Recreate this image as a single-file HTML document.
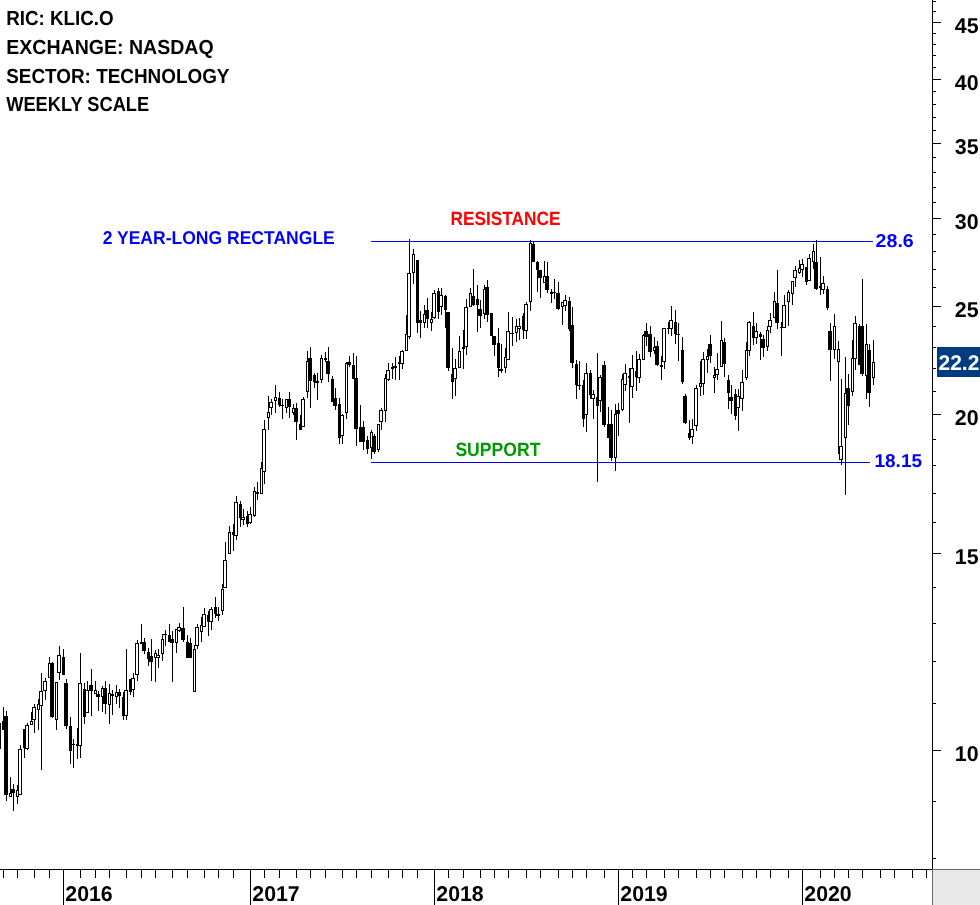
<!DOCTYPE html>
<html lang="en"><head><meta charset="utf-8"><title>KLIC.O weekly chart</title>
<style>
html,body{margin:0;padding:0;background:#fff}
body{width:980px;height:905px;overflow:hidden}
svg{display:block}
text{font-family:"Liberation Sans",Arial,sans-serif;font-weight:bold}
</style></head><body>
<svg width="980" height="905" viewBox="0 0 980 905" shape-rendering="crispEdges">
<rect width="980" height="905" fill="#fff"/>
<g fill="#000">
<rect x="0" y="723" width="1" height="26"/>
<rect x="3" y="707" width="1" height="23"/><rect x="2" y="721" width="3" height="9"/>
<rect x="6" y="711" width="1" height="90"/><rect x="4" y="716" width="4" height="79"/>
<rect x="10" y="777" width="1" height="20"/><rect x="9" y="793" width="3" height="4"/><rect x="10" y="794" width="1" height="2" fill="#fff"/>
<rect x="13" y="784" width="1" height="27"/><rect x="11" y="789" width="4" height="4"/>
<rect x="17" y="785" width="1" height="19"/><rect x="16" y="790" width="3" height="7"/><rect x="17" y="791" width="1" height="5" fill="#fff"/>
<rect x="20" y="745" width="1" height="50"/><rect x="18" y="749" width="4" height="46"/><rect x="19" y="750" width="2" height="44" fill="#fff"/>
<rect x="24" y="729" width="1" height="29"/><rect x="23" y="729" width="3" height="19"/>
<rect x="27" y="723" width="1" height="27"/><rect x="25" y="725" width="4" height="24"/><rect x="26" y="726" width="2" height="22" fill="#fff"/>
<rect x="31" y="712" width="1" height="13"/><rect x="30" y="721" width="3" height="4"/><rect x="31" y="722" width="1" height="2" fill="#fff"/>
<rect x="34" y="704" width="1" height="29"/><rect x="32" y="707" width="4" height="13"/><rect x="33" y="708" width="2" height="11" fill="#fff"/>
<rect x="38" y="699" width="1" height="31"/><rect x="37" y="704" width="3" height="6"/><rect x="38" y="705" width="1" height="4" fill="#fff"/>
<rect x="41" y="673" width="1" height="97"/><rect x="39" y="691" width="4" height="15"/><rect x="40" y="692" width="2" height="13" fill="#fff"/>
<rect x="45" y="678" width="1" height="22"/><rect x="43" y="681" width="4" height="10"/><rect x="44" y="682" width="2" height="8" fill="#fff"/>
<rect x="49" y="657" width="1" height="21"/><rect x="48" y="663" width="3" height="15"/><rect x="49" y="664" width="1" height="13" fill="#fff"/>
<rect x="52" y="662" width="1" height="56"/><rect x="50" y="663" width="4" height="54"/>
<rect x="56" y="682" width="1" height="48"/><rect x="55" y="682" width="3" height="38"/><rect x="56" y="683" width="1" height="36" fill="#fff"/>
<rect x="59" y="646" width="1" height="34"/><rect x="57" y="655" width="4" height="18"/><rect x="58" y="656" width="2" height="16" fill="#fff"/>
<rect x="63" y="649" width="1" height="26"/><rect x="62" y="657" width="3" height="18"/>
<rect x="66" y="679" width="1" height="50"/><rect x="64" y="683" width="4" height="43"/>
<rect x="70" y="717" width="1" height="47"/><rect x="69" y="726" width="3" height="25"/>
<rect x="73" y="739" width="1" height="29"/><rect x="71" y="744" width="4" height="1"/>
<rect x="77" y="728" width="1" height="31"/><rect x="76" y="744" width="3" height="2"/>
<rect x="80" y="653" width="1" height="105"/><rect x="78" y="683" width="4" height="63"/><rect x="79" y="684" width="2" height="61" fill="#fff"/>
<rect x="84" y="683" width="1" height="41"/><rect x="83" y="689" width="3" height="28"/>
<rect x="87" y="681" width="1" height="32"/><rect x="85" y="690" width="4" height="23"/><rect x="86" y="691" width="2" height="21" fill="#fff"/>
<rect x="91" y="669" width="1" height="47"/><rect x="89" y="685" width="4" height="6"/>
<rect x="95" y="681" width="1" height="13"/><rect x="94" y="690" width="3" height="4"/><rect x="95" y="691" width="1" height="2" fill="#fff"/>
<rect x="98" y="691" width="1" height="20"/><rect x="96" y="694" width="4" height="3"/>
<rect x="102" y="686" width="1" height="26"/><rect x="101" y="688" width="3" height="9"/><rect x="102" y="689" width="1" height="7" fill="#fff"/>
<rect x="105" y="681" width="1" height="33"/><rect x="103" y="688" width="4" height="16"/>
<rect x="109" y="684" width="1" height="40"/><rect x="108" y="693" width="3" height="12"/><rect x="109" y="694" width="1" height="10" fill="#fff"/>
<rect x="112" y="690" width="1" height="25"/><rect x="110" y="694" width="4" height="2"/>
<rect x="116" y="685" width="1" height="19"/><rect x="115" y="692" width="3" height="5"/><rect x="116" y="693" width="1" height="3" fill="#fff"/>
<rect x="119" y="689" width="1" height="19"/><rect x="117" y="692" width="4" height="4"/>
<rect x="123" y="692" width="1" height="28"/><rect x="122" y="697" width="3" height="19"/>
<rect x="126" y="649" width="1" height="71"/><rect x="124" y="690" width="4" height="26"/><rect x="125" y="691" width="2" height="24" fill="#fff"/>
<rect x="130" y="679" width="1" height="16"/><rect x="129" y="679" width="3" height="13"/>
<rect x="133" y="673" width="1" height="24"/><rect x="131" y="678" width="4" height="12"/><rect x="132" y="679" width="2" height="10" fill="#fff"/>
<rect x="137" y="640" width="1" height="41"/><rect x="135" y="643" width="4" height="32"/><rect x="136" y="644" width="2" height="30" fill="#fff"/>
<rect x="141" y="624" width="1" height="20"/><rect x="140" y="642" width="3" height="2"/>
<rect x="144" y="638" width="1" height="16"/><rect x="142" y="642" width="4" height="9"/>
<rect x="148" y="648" width="1" height="18"/><rect x="147" y="652" width="3" height="7"/>
<rect x="151" y="639" width="1" height="42"/><rect x="149" y="656" width="4" height="6"/>
<rect x="155" y="650" width="1" height="32"/><rect x="154" y="653" width="3" height="5"/><rect x="155" y="654" width="1" height="3" fill="#fff"/>
<rect x="158" y="649" width="1" height="19"/><rect x="156" y="655" width="4" height="3"/><rect x="157" y="656" width="2" height="1" fill="#fff"/>
<rect x="162" y="634" width="1" height="27"/><rect x="161" y="639" width="3" height="15"/><rect x="162" y="640" width="1" height="13" fill="#fff"/>
<rect x="165" y="630" width="1" height="16"/><rect x="163" y="634" width="4" height="1"/>
<rect x="169" y="624" width="1" height="18"/><rect x="168" y="635" width="3" height="7"/>
<rect x="172" y="631" width="1" height="51"/><rect x="170" y="639" width="4" height="4"/>
<rect x="176" y="629" width="1" height="24"/><rect x="175" y="629" width="3" height="14"/><rect x="176" y="630" width="1" height="12" fill="#fff"/>
<rect x="179" y="623" width="1" height="9"/><rect x="177" y="627" width="4" height="4"/><rect x="178" y="628" width="2" height="2" fill="#fff"/>
<rect x="183" y="607" width="1" height="35"/><rect x="181" y="628" width="4" height="12"/>
<rect x="187" y="635" width="1" height="23"/><rect x="186" y="642" width="3" height="16"/>
<rect x="190" y="638" width="1" height="20"/><rect x="188" y="643" width="4" height="15"/>
<rect x="194" y="645" width="1" height="47"/><rect x="193" y="649" width="3" height="43"/><rect x="194" y="650" width="1" height="41" fill="#fff"/>
<rect x="197" y="624" width="1" height="25"/><rect x="195" y="627" width="4" height="19"/><rect x="196" y="628" width="2" height="17" fill="#fff"/>
<rect x="201" y="617" width="1" height="25"/><rect x="200" y="625" width="3" height="7"/><rect x="201" y="626" width="1" height="5" fill="#fff"/>
<rect x="204" y="608" width="1" height="19"/><rect x="202" y="614" width="4" height="13"/><rect x="203" y="615" width="2" height="11" fill="#fff"/>
<rect x="208" y="611" width="1" height="25"/><rect x="207" y="615" width="3" height="7"/>
<rect x="211" y="607" width="1" height="23"/><rect x="209" y="609" width="4" height="13"/><rect x="210" y="610" width="2" height="11" fill="#fff"/>
<rect x="215" y="597" width="1" height="21"/><rect x="214" y="607" width="3" height="7"/>
<rect x="218" y="607" width="1" height="14"/><rect x="216" y="614" width="4" height="2"/>
<rect x="222" y="584" width="1" height="31"/><rect x="221" y="589" width="3" height="22"/><rect x="222" y="590" width="1" height="20" fill="#fff"/>
<rect x="225" y="542" width="1" height="46"/><rect x="223" y="560" width="4" height="28"/><rect x="224" y="561" width="2" height="26" fill="#fff"/>
<rect x="229" y="526" width="1" height="28"/><rect x="228" y="532" width="3" height="22"/><rect x="229" y="533" width="1" height="20" fill="#fff"/>
<rect x="233" y="524" width="1" height="27"/><rect x="232" y="532" width="3" height="3"/>
<rect x="236" y="496" width="1" height="44"/><rect x="234" y="502" width="4" height="34"/><rect x="235" y="503" width="2" height="32" fill="#fff"/>
<rect x="240" y="501" width="1" height="26"/><rect x="239" y="504" width="3" height="14"/>
<rect x="243" y="509" width="1" height="16"/><rect x="241" y="517" width="4" height="3"/><rect x="242" y="518" width="2" height="1" fill="#fff"/>
<rect x="247" y="511" width="1" height="16"/><rect x="246" y="516" width="3" height="8"/>
<rect x="250" y="507" width="1" height="17"/><rect x="248" y="514" width="4" height="9"/><rect x="249" y="515" width="2" height="7" fill="#fff"/>
<rect x="254" y="487" width="1" height="30"/><rect x="253" y="491" width="3" height="25"/><rect x="254" y="492" width="1" height="23" fill="#fff"/>
<rect x="257" y="482" width="1" height="18"/><rect x="255" y="492" width="4" height="2"/>
<rect x="261" y="462" width="1" height="32"/><rect x="260" y="468" width="3" height="26"/><rect x="261" y="469" width="1" height="24" fill="#fff"/>
<rect x="264" y="420" width="1" height="64"/><rect x="262" y="429" width="4" height="43"/><rect x="263" y="430" width="2" height="41" fill="#fff"/>
<rect x="268" y="396" width="1" height="34"/><rect x="267" y="412" width="3" height="6"/><rect x="268" y="413" width="1" height="4" fill="#fff"/>
<rect x="271" y="399" width="1" height="16"/><rect x="269" y="402" width="4" height="6"/><rect x="270" y="403" width="2" height="4" fill="#fff"/>
<rect x="275" y="385" width="1" height="28"/><rect x="274" y="397" width="3" height="4"/><rect x="275" y="398" width="1" height="2" fill="#fff"/>
<rect x="279" y="392" width="1" height="15"/><rect x="278" y="398" width="3" height="7"/>
<rect x="282" y="399" width="1" height="20"/><rect x="280" y="405" width="4" height="1"/>
<rect x="286" y="399" width="1" height="14"/><rect x="285" y="399" width="3" height="9"/><rect x="286" y="400" width="1" height="7" fill="#fff"/>
<rect x="289" y="392" width="1" height="26"/><rect x="287" y="399" width="4" height="8"/>
<rect x="293" y="404" width="1" height="11"/><rect x="292" y="408" width="3" height="5"/><rect x="293" y="409" width="1" height="3" fill="#fff"/>
<rect x="296" y="403" width="1" height="37"/><rect x="294" y="408" width="4" height="14"/>
<rect x="300" y="415" width="1" height="15"/><rect x="299" y="424" width="3" height="6"/>
<rect x="303" y="397" width="1" height="30"/><rect x="301" y="399" width="4" height="28"/><rect x="302" y="400" width="2" height="26" fill="#fff"/>
<rect x="307" y="351" width="1" height="47"/><rect x="306" y="361" width="3" height="31"/><rect x="307" y="362" width="1" height="29" fill="#fff"/>
<rect x="310" y="347" width="1" height="61"/><rect x="308" y="358" width="4" height="23"/>
<rect x="314" y="373" width="1" height="15"/><rect x="313" y="375" width="3" height="7"/>
<rect x="317" y="373" width="1" height="27"/><rect x="315" y="381" width="4" height="2"/>
<rect x="321" y="355" width="1" height="28"/><rect x="320" y="358" width="3" height="22"/><rect x="321" y="359" width="1" height="20" fill="#fff"/>
<rect x="325" y="352" width="1" height="10"/><rect x="324" y="358" width="3" height="2"/>
<rect x="328" y="347" width="1" height="35"/><rect x="326" y="361" width="4" height="13"/>
<rect x="332" y="376" width="1" height="26"/><rect x="331" y="379" width="3" height="23"/>
<rect x="335" y="388" width="1" height="22"/><rect x="333" y="398" width="4" height="8"/>
<rect x="339" y="398" width="1" height="46"/><rect x="338" y="404" width="3" height="34"/>
<rect x="342" y="414" width="1" height="30"/><rect x="340" y="415" width="4" height="21"/><rect x="341" y="416" width="2" height="19" fill="#fff"/>
<rect x="346" y="362" width="1" height="57"/><rect x="345" y="363" width="3" height="50"/><rect x="346" y="364" width="1" height="48" fill="#fff"/>
<rect x="349" y="356" width="1" height="11"/><rect x="347" y="362" width="4" height="3"/>
<rect x="353" y="353" width="1" height="26"/><rect x="352" y="365" width="3" height="14"/>
<rect x="356" y="356" width="1" height="90"/><rect x="354" y="378" width="4" height="51"/>
<rect x="360" y="405" width="1" height="37"/><rect x="359" y="427" width="3" height="15"/>
<rect x="363" y="421" width="1" height="29"/><rect x="361" y="427" width="4" height="15"/>
<rect x="367" y="436" width="1" height="18"/><rect x="366" y="440" width="3" height="9"/>
<rect x="371" y="430" width="1" height="29"/><rect x="370" y="432" width="3" height="16"/><rect x="371" y="433" width="1" height="14" fill="#fff"/>
<rect x="374" y="434" width="1" height="20"/><rect x="372" y="436" width="4" height="16"/>
<rect x="378" y="424" width="1" height="28"/><rect x="377" y="424" width="3" height="26"/><rect x="378" y="425" width="1" height="24" fill="#fff"/>
<rect x="381" y="408" width="1" height="22"/><rect x="379" y="410" width="4" height="12"/><rect x="380" y="411" width="2" height="10" fill="#fff"/>
<rect x="385" y="374" width="1" height="48"/><rect x="384" y="378" width="3" height="33"/><rect x="385" y="379" width="1" height="31" fill="#fff"/>
<rect x="388" y="363" width="1" height="18"/><rect x="386" y="370" width="4" height="10"/><rect x="387" y="371" width="2" height="8" fill="#fff"/>
<rect x="392" y="363" width="1" height="16"/><rect x="391" y="367" width="3" height="2"/>
<rect x="395" y="357" width="1" height="23"/><rect x="393" y="366" width="4" height="2"/>
<rect x="399" y="356" width="1" height="24"/><rect x="398" y="362" width="3" height="2"/>
<rect x="402" y="350" width="1" height="19"/><rect x="400" y="351" width="4" height="13"/><rect x="401" y="352" width="2" height="11" fill="#fff"/>
<rect x="406" y="315" width="1" height="36"/><rect x="405" y="334" width="3" height="17"/><rect x="406" y="335" width="1" height="15" fill="#fff"/>
<rect x="409" y="239" width="1" height="100"/><rect x="407" y="273" width="4" height="64"/><rect x="408" y="274" width="2" height="62" fill="#fff"/>
<rect x="413" y="249" width="1" height="35"/><rect x="412" y="254" width="3" height="19"/><rect x="413" y="255" width="1" height="17" fill="#fff"/>
<rect x="417" y="260" width="1" height="73"/><rect x="416" y="260" width="3" height="63"/>
<rect x="420" y="311" width="1" height="27"/><rect x="418" y="320" width="4" height="3"/>
<rect x="424" y="305" width="1" height="23"/><rect x="423" y="314" width="3" height="9"/><rect x="424" y="315" width="1" height="7" fill="#fff"/>
<rect x="427" y="298" width="1" height="30"/><rect x="425" y="310" width="4" height="9"/>
<rect x="431" y="312" width="1" height="19"/><rect x="430" y="319" width="3" height="4"/><rect x="431" y="320" width="1" height="2" fill="#fff"/>
<rect x="434" y="290" width="1" height="29"/><rect x="432" y="293" width="4" height="25"/><rect x="433" y="294" width="2" height="23" fill="#fff"/>
<rect x="438" y="288" width="1" height="31"/><rect x="437" y="291" width="3" height="21"/>
<rect x="441" y="288" width="1" height="27"/><rect x="439" y="295" width="4" height="12"/><rect x="440" y="296" width="2" height="10" fill="#fff"/>
<rect x="445" y="295" width="1" height="33"/><rect x="444" y="296" width="3" height="14"/>
<rect x="448" y="312" width="1" height="59"/><rect x="446" y="312" width="4" height="56"/>
<rect x="452" y="348" width="1" height="51"/><rect x="451" y="374" width="3" height="8"/>
<rect x="455" y="359" width="1" height="37"/><rect x="453" y="368" width="4" height="11"/><rect x="454" y="369" width="2" height="9" fill="#fff"/>
<rect x="459" y="336" width="1" height="32"/><rect x="458" y="351" width="3" height="17"/><rect x="459" y="352" width="1" height="15" fill="#fff"/>
<rect x="463" y="330" width="1" height="39"/><rect x="462" y="347" width="3" height="2"/>
<rect x="466" y="299" width="1" height="56"/><rect x="464" y="307" width="4" height="40"/><rect x="465" y="308" width="2" height="38" fill="#fff"/>
<rect x="470" y="288" width="1" height="19"/><rect x="469" y="293" width="3" height="14"/><rect x="470" y="294" width="1" height="12" fill="#fff"/>
<rect x="473" y="269" width="1" height="37"/><rect x="471" y="296" width="4" height="9"/>
<rect x="477" y="285" width="1" height="47"/><rect x="476" y="299" width="3" height="6"/>
<rect x="480" y="300" width="1" height="28"/><rect x="478" y="309" width="4" height="7"/>
<rect x="484" y="285" width="1" height="34"/><rect x="483" y="289" width="3" height="25"/><rect x="484" y="290" width="1" height="23" fill="#fff"/>
<rect x="487" y="280" width="1" height="42"/><rect x="485" y="287" width="4" height="28"/>
<rect x="491" y="313" width="1" height="23"/><rect x="490" y="313" width="3" height="23"/>
<rect x="494" y="336" width="1" height="20"/><rect x="492" y="336" width="4" height="9"/>
<rect x="498" y="328" width="1" height="49"/><rect x="497" y="343" width="3" height="25"/>
<rect x="501" y="344" width="1" height="29"/><rect x="499" y="369" width="4" height="2"/>
<rect x="505" y="348" width="1" height="25"/><rect x="504" y="357" width="3" height="11"/><rect x="505" y="358" width="1" height="9" fill="#fff"/>
<rect x="508" y="312" width="1" height="48"/><rect x="506" y="331" width="4" height="29"/><rect x="507" y="332" width="2" height="27" fill="#fff"/>
<rect x="512" y="317" width="1" height="29"/><rect x="510" y="333" width="4" height="1"/>
<rect x="516" y="319" width="1" height="23"/><rect x="515" y="326" width="3" height="7"/><rect x="516" y="327" width="1" height="5" fill="#fff"/>
<rect x="519" y="318" width="1" height="22"/><rect x="517" y="326" width="4" height="3"/><rect x="518" y="327" width="2" height="1" fill="#fff"/>
<rect x="523" y="313" width="1" height="26"/><rect x="522" y="316" width="3" height="14"/>
<rect x="526" y="302" width="1" height="37"/><rect x="524" y="304" width="4" height="27"/><rect x="525" y="305" width="2" height="25" fill="#fff"/>
<rect x="530" y="240" width="1" height="71"/><rect x="529" y="243" width="3" height="59"/><rect x="530" y="244" width="1" height="57" fill="#fff"/>
<rect x="533" y="242" width="1" height="20"/><rect x="531" y="244" width="4" height="18"/>
<rect x="537" y="261" width="1" height="31"/><rect x="536" y="262" width="3" height="8"/>
<rect x="540" y="270" width="1" height="28"/><rect x="538" y="270" width="4" height="8"/>
<rect x="544" y="261" width="1" height="22"/><rect x="543" y="276" width="3" height="7"/><rect x="544" y="277" width="1" height="5" fill="#fff"/>
<rect x="547" y="262" width="1" height="31"/><rect x="545" y="276" width="4" height="14"/>
<rect x="551" y="289" width="1" height="14"/><rect x="550" y="292" width="3" height="2"/>
<rect x="554" y="279" width="1" height="20"/><rect x="552" y="292" width="4" height="1"/>
<rect x="558" y="282" width="1" height="28"/><rect x="556" y="293" width="4" height="16"/>
<rect x="562" y="302" width="1" height="23"/><rect x="561" y="302" width="3" height="5"/><rect x="562" y="303" width="1" height="3" fill="#fff"/>
<rect x="565" y="295" width="1" height="16"/><rect x="563" y="300" width="4" height="6"/><rect x="564" y="301" width="2" height="4" fill="#fff"/>
<rect x="569" y="297" width="1" height="34"/><rect x="568" y="301" width="3" height="28"/>
<rect x="572" y="307" width="1" height="61"/><rect x="570" y="325" width="4" height="38"/>
<rect x="576" y="360" width="1" height="39"/><rect x="575" y="364" width="3" height="21"/>
<rect x="579" y="361" width="1" height="29"/><rect x="577" y="385" width="4" height="1"/>
<rect x="583" y="380" width="1" height="47"/><rect x="582" y="385" width="3" height="34"/>
<rect x="586" y="363" width="1" height="69"/><rect x="584" y="373" width="4" height="42"/><rect x="585" y="374" width="2" height="40" fill="#fff"/>
<rect x="590" y="370" width="1" height="29"/><rect x="589" y="373" width="3" height="22"/>
<rect x="593" y="390" width="1" height="29"/><rect x="591" y="394" width="4" height="5"/><rect x="592" y="395" width="2" height="3" fill="#fff"/>
<rect x="597" y="353" width="1" height="129"/><rect x="596" y="397" width="3" height="9"/>
<rect x="600" y="375" width="1" height="37"/><rect x="598" y="377" width="4" height="24"/><rect x="599" y="378" width="2" height="22" fill="#fff"/>
<rect x="604" y="361" width="1" height="66"/><rect x="602" y="365" width="4" height="60"/>
<rect x="608" y="407" width="1" height="31"/><rect x="607" y="424" width="3" height="14"/>
<rect x="611" y="410" width="1" height="51"/><rect x="609" y="424" width="4" height="34"/>
<rect x="615" y="404" width="1" height="67"/><rect x="614" y="414" width="3" height="44"/><rect x="615" y="415" width="1" height="42" fill="#fff"/>
<rect x="618" y="403" width="1" height="33"/><rect x="616" y="410" width="4" height="4"/>
<rect x="622" y="374" width="1" height="37"/><rect x="621" y="379" width="3" height="31"/><rect x="622" y="380" width="1" height="29" fill="#fff"/>
<rect x="625" y="364" width="1" height="27"/><rect x="623" y="373" width="4" height="12"/><rect x="624" y="374" width="2" height="10" fill="#fff"/>
<rect x="629" y="368" width="1" height="55"/><rect x="628" y="376" width="3" height="2"/>
<rect x="632" y="355" width="1" height="43"/><rect x="630" y="368" width="4" height="19"/><rect x="631" y="369" width="2" height="17" fill="#fff"/>
<rect x="636" y="351" width="1" height="40"/><rect x="635" y="371" width="3" height="6"/>
<rect x="639" y="354" width="1" height="29"/><rect x="637" y="359" width="4" height="19"/><rect x="638" y="360" width="2" height="17" fill="#fff"/>
<rect x="643" y="334" width="1" height="26"/><rect x="642" y="335" width="3" height="25"/><rect x="643" y="336" width="1" height="23" fill="#fff"/>
<rect x="646" y="323" width="1" height="23"/><rect x="644" y="331" width="4" height="6"/>
<rect x="650" y="326" width="1" height="31"/><rect x="648" y="334" width="4" height="18"/>
<rect x="654" y="337" width="1" height="17"/><rect x="653" y="347" width="3" height="4"/><rect x="654" y="348" width="1" height="2" fill="#fff"/>
<rect x="657" y="341" width="1" height="25"/><rect x="655" y="346" width="4" height="19"/>
<rect x="661" y="356" width="1" height="24"/><rect x="660" y="365" width="3" height="2"/>
<rect x="664" y="328" width="1" height="41"/><rect x="662" y="328" width="4" height="34"/><rect x="663" y="329" width="2" height="32" fill="#fff"/>
<rect x="668" y="322" width="1" height="12"/><rect x="667" y="328" width="3" height="1"/>
<rect x="671" y="306" width="1" height="30"/><rect x="669" y="320" width="4" height="9"/><rect x="670" y="321" width="2" height="7" fill="#fff"/>
<rect x="675" y="310" width="1" height="34"/><rect x="674" y="322" width="3" height="12"/>
<rect x="678" y="323" width="1" height="38"/><rect x="676" y="334" width="4" height="1"/>
<rect x="682" y="337" width="1" height="47"/><rect x="681" y="350" width="3" height="32"/>
<rect x="685" y="394" width="1" height="30"/><rect x="683" y="396" width="4" height="27"/>
<rect x="689" y="420" width="1" height="20"/><rect x="688" y="433" width="3" height="5"/>
<rect x="692" y="419" width="1" height="25"/><rect x="690" y="429" width="4" height="8"/><rect x="691" y="430" width="2" height="6" fill="#fff"/>
<rect x="696" y="385" width="1" height="46"/><rect x="694" y="388" width="4" height="38"/><rect x="695" y="389" width="2" height="36" fill="#fff"/>
<rect x="700" y="361" width="1" height="35"/><rect x="699" y="383" width="3" height="4"/><rect x="700" y="384" width="1" height="2" fill="#fff"/>
<rect x="703" y="352" width="1" height="43"/><rect x="701" y="359" width="4" height="25"/><rect x="702" y="360" width="2" height="23" fill="#fff"/>
<rect x="707" y="349" width="1" height="24"/><rect x="706" y="356" width="3" height="4"/><rect x="707" y="357" width="1" height="2" fill="#fff"/>
<rect x="710" y="335" width="1" height="28"/><rect x="708" y="344" width="4" height="12"/>
<rect x="714" y="367" width="1" height="26"/><rect x="713" y="375" width="3" height="3"/><rect x="714" y="376" width="1" height="1" fill="#fff"/>
<rect x="717" y="353" width="1" height="27"/><rect x="715" y="369" width="4" height="6"/><rect x="716" y="370" width="2" height="4" fill="#fff"/>
<rect x="721" y="321" width="1" height="46"/><rect x="720" y="340" width="3" height="27"/><rect x="721" y="341" width="1" height="25" fill="#fff"/>
<rect x="724" y="338" width="1" height="39"/><rect x="722" y="342" width="4" height="22"/>
<rect x="728" y="375" width="1" height="34"/><rect x="727" y="380" width="3" height="13"/>
<rect x="731" y="385" width="1" height="29"/><rect x="729" y="397" width="4" height="4"/>
<rect x="735" y="389" width="1" height="31"/><rect x="734" y="394" width="3" height="22"/>
<rect x="738" y="389" width="1" height="42"/><rect x="736" y="396" width="4" height="12"/><rect x="737" y="397" width="2" height="10" fill="#fff"/>
<rect x="742" y="370" width="1" height="41"/><rect x="740" y="382" width="4" height="17"/><rect x="741" y="383" width="2" height="15" fill="#fff"/>
<rect x="746" y="342" width="1" height="38"/><rect x="745" y="350" width="3" height="28"/><rect x="746" y="351" width="1" height="26" fill="#fff"/>
<rect x="749" y="321" width="1" height="35"/><rect x="747" y="322" width="4" height="29"/><rect x="748" y="323" width="2" height="27" fill="#fff"/>
<rect x="753" y="312" width="1" height="33"/><rect x="752" y="326" width="3" height="12"/>
<rect x="756" y="323" width="1" height="21"/><rect x="754" y="331" width="4" height="7"/><rect x="755" y="332" width="2" height="5" fill="#fff"/>
<rect x="760" y="332" width="1" height="28"/><rect x="759" y="334" width="3" height="3"/>
<rect x="763" y="335" width="1" height="22"/><rect x="761" y="339" width="4" height="9"/>
<rect x="767" y="326" width="1" height="25"/><rect x="766" y="330" width="3" height="17"/><rect x="767" y="331" width="1" height="15" fill="#fff"/>
<rect x="770" y="313" width="1" height="20"/><rect x="768" y="320" width="4" height="7"/><rect x="769" y="321" width="2" height="5" fill="#fff"/>
<rect x="774" y="292" width="1" height="26"/><rect x="773" y="301" width="3" height="17"/><rect x="774" y="302" width="1" height="15" fill="#fff"/>
<rect x="777" y="270" width="1" height="59"/><rect x="775" y="303" width="4" height="20"/>
<rect x="781" y="322" width="1" height="34"/><rect x="780" y="327" width="3" height="1"/>
<rect x="784" y="295" width="1" height="33"/><rect x="782" y="305" width="4" height="23"/><rect x="783" y="306" width="2" height="21" fill="#fff"/>
<rect x="788" y="290" width="1" height="36"/><rect x="787" y="292" width="3" height="10"/><rect x="788" y="293" width="1" height="8" fill="#fff"/>
<rect x="792" y="281" width="1" height="24"/><rect x="791" y="281" width="3" height="13"/><rect x="792" y="282" width="1" height="11" fill="#fff"/>
<rect x="795" y="266" width="1" height="21"/><rect x="793" y="270" width="4" height="8"/><rect x="794" y="271" width="2" height="6" fill="#fff"/>
<rect x="799" y="260" width="1" height="14"/><rect x="798" y="268" width="3" height="5"/><rect x="799" y="269" width="1" height="3" fill="#fff"/>
<rect x="802" y="259" width="1" height="18"/><rect x="800" y="264" width="4" height="6"/><rect x="801" y="265" width="2" height="4" fill="#fff"/>
<rect x="806" y="267" width="1" height="18"/><rect x="805" y="267" width="3" height="15"/>
<rect x="809" y="254" width="1" height="27"/><rect x="807" y="258" width="4" height="23"/><rect x="808" y="259" width="2" height="21" fill="#fff"/>
<rect x="813" y="244" width="1" height="25"/><rect x="812" y="251" width="3" height="11"/><rect x="813" y="252" width="1" height="9" fill="#fff"/>
<rect x="816" y="240" width="1" height="50"/><rect x="814" y="262" width="4" height="27"/>
<rect x="820" y="257" width="1" height="38"/><rect x="819" y="286" width="3" height="2"/>
<rect x="823" y="276" width="1" height="18"/><rect x="821" y="283" width="4" height="7"/><rect x="822" y="284" width="2" height="5" fill="#fff"/>
<rect x="827" y="286" width="1" height="24"/><rect x="826" y="289" width="3" height="19"/>
<rect x="830" y="323" width="1" height="58"/><rect x="828" y="331" width="4" height="19"/>
<rect x="834" y="314" width="1" height="45"/><rect x="833" y="326" width="3" height="24"/><rect x="834" y="327" width="1" height="22" fill="#fff"/>
<rect x="838" y="341" width="1" height="113"/><rect x="837" y="349" width="3" height="13"/><rect x="838" y="350" width="1" height="11" fill="#fff"/>
<rect x="841" y="379" width="1" height="86"/><rect x="839" y="446" width="4" height="14"/><rect x="840" y="447" width="2" height="12" fill="#fff"/>
<rect x="845" y="357" width="1" height="138"/><rect x="844" y="393" width="3" height="45"/><rect x="845" y="394" width="1" height="43" fill="#fff"/>
<rect x="848" y="374" width="1" height="51"/><rect x="846" y="388" width="4" height="18"/>
<rect x="852" y="340" width="1" height="56"/><rect x="851" y="358" width="3" height="34"/><rect x="852" y="359" width="1" height="32" fill="#fff"/>
<rect x="855" y="316" width="1" height="54"/><rect x="853" y="323" width="4" height="36"/><rect x="854" y="324" width="2" height="34" fill="#fff"/>
<rect x="859" y="324" width="1" height="41"/><rect x="858" y="326" width="3" height="39"/>
<rect x="862" y="279" width="1" height="97"/><rect x="860" y="326" width="4" height="48"/>
<rect x="866" y="324" width="1" height="75"/><rect x="865" y="344" width="3" height="32"/><rect x="866" y="345" width="1" height="30" fill="#fff"/>
<rect x="869" y="344" width="1" height="63"/><rect x="867" y="350" width="4" height="43"/>
<rect x="873" y="340" width="1" height="45"/><rect x="872" y="362" width="3" height="16"/><rect x="873" y="363" width="1" height="14" fill="#fff"/>
</g>
<rect x="371" y="241" width="502" height="1" fill="#0000ff"/><rect x="371" y="462" width="499" height="1" fill="#0000ff"/>
<g fill="#000">
<rect x="932" y="0" width="1" height="870"/><rect x="933" y="1" width="3" height="1"/><rect x="933" y="11" width="3" height="1"/><rect x="933" y="22" width="8" height="1"/><rect x="933" y="33" width="3" height="1"/><rect x="933" y="44" width="3" height="1"/><rect x="933" y="55" width="3" height="1"/><rect x="933" y="67" width="3" height="1"/><rect x="933" y="79" width="8" height="1"/><rect x="933" y="91" width="3" height="1"/><rect x="933" y="104" width="3" height="1"/><rect x="933" y="117" width="3" height="1"/><rect x="933" y="130" width="3" height="1"/><rect x="933" y="143" width="8" height="1"/><rect x="933" y="157" width="3" height="1"/><rect x="933" y="172" width="3" height="1"/><rect x="933" y="187" width="3" height="1"/><rect x="933" y="202" width="3" height="1"/><rect x="933" y="218" width="8" height="1"/><rect x="933" y="234" width="3" height="1"/><rect x="933" y="251" width="3" height="1"/><rect x="933" y="269" width="3" height="1"/><rect x="933" y="287" width="3" height="1"/><rect x="933" y="306" width="8" height="1"/><rect x="933" y="326" width="3" height="1"/><rect x="933" y="347" width="3" height="1"/><rect x="933" y="368" width="3" height="1"/><rect x="933" y="391" width="3" height="1"/><rect x="933" y="414" width="8" height="1"/><rect x="933" y="439" width="3" height="1"/><rect x="933" y="465" width="3" height="1"/><rect x="933" y="493" width="3" height="1"/><rect x="933" y="522" width="3" height="1"/><rect x="933" y="553" width="8" height="1"/><rect x="933" y="587" width="3" height="1"/><rect x="933" y="623" width="3" height="1"/><rect x="933" y="661" width="3" height="1"/><rect x="933" y="703" width="3" height="1"/><rect x="933" y="750" width="8" height="1"/><rect x="933" y="801" width="3" height="1"/><rect x="933" y="858" width="3" height="1"/>
<rect x="0" y="869" width="933" height="1"/><rect x="3" y="869" width="1" height="9"/><rect x="17" y="869" width="1" height="9"/><rect x="34" y="869" width="1" height="9"/><rect x="49" y="869" width="1" height="9"/><rect x="63" y="869" width="1" height="36"/><rect x="80" y="869" width="1" height="9"/><rect x="95" y="869" width="1" height="9"/><rect x="109" y="869" width="1" height="9"/><rect x="126" y="869" width="1" height="9"/><rect x="141" y="869" width="1" height="9"/><rect x="155" y="869" width="1" height="9"/><rect x="172" y="869" width="1" height="9"/><rect x="187" y="869" width="1" height="9"/><rect x="204" y="869" width="1" height="9"/><rect x="218" y="869" width="1" height="9"/><rect x="233" y="869" width="1" height="9"/><rect x="250" y="869" width="1" height="36"/><rect x="264" y="869" width="1" height="9"/><rect x="279" y="869" width="1" height="9"/><rect x="296" y="869" width="1" height="9"/><rect x="310" y="869" width="1" height="9"/><rect x="325" y="869" width="1" height="9"/><rect x="342" y="869" width="1" height="9"/><rect x="356" y="869" width="1" height="9"/><rect x="371" y="869" width="1" height="9"/><rect x="388" y="869" width="1" height="9"/><rect x="402" y="869" width="1" height="9"/><rect x="417" y="869" width="1" height="9"/><rect x="434" y="869" width="1" height="36"/><rect x="448" y="869" width="1" height="9"/><rect x="463" y="869" width="1" height="9"/><rect x="480" y="869" width="1" height="9"/><rect x="494" y="869" width="1" height="9"/><rect x="508" y="869" width="1" height="9"/><rect x="526" y="869" width="1" height="9"/><rect x="540" y="869" width="1" height="9"/><rect x="558" y="869" width="1" height="9"/><rect x="572" y="869" width="1" height="9"/><rect x="586" y="869" width="1" height="9"/><rect x="604" y="869" width="1" height="9"/><rect x="618" y="869" width="1" height="36"/><rect x="632" y="869" width="1" height="9"/><rect x="646" y="869" width="1" height="9"/><rect x="664" y="869" width="1" height="9"/><rect x="678" y="869" width="1" height="9"/><rect x="696" y="869" width="1" height="9"/><rect x="710" y="869" width="1" height="9"/><rect x="724" y="869" width="1" height="9"/><rect x="742" y="869" width="1" height="9"/><rect x="756" y="869" width="1" height="9"/><rect x="770" y="869" width="1" height="9"/><rect x="788" y="869" width="1" height="9"/><rect x="802" y="869" width="1" height="36"/><rect x="820" y="869" width="1" height="9"/><rect x="834" y="869" width="1" height="9"/><rect x="848" y="869" width="1" height="9"/><rect x="862" y="869" width="1" height="9"/><rect x="880" y="869" width="1" height="9"/><rect x="894" y="869" width="1" height="9"/><rect x="912" y="869" width="1" height="9"/><rect x="926" y="869" width="1" height="9"/>
</g>
<rect x="932" y="869" width="48" height="36" fill="#696969"/><rect x="933" y="870" width="47" height="35" fill="#e9e9e9"/>
<rect x="937" y="347" width="43" height="30" fill="#003c80"/>
<g shape-rendering="auto" text-rendering="geometricPrecision">
<text x="6.2" y="25" font-size="20.3" fill="#000" textLength="107.5" lengthAdjust="spacingAndGlyphs">RIC: KLIC.O</text>
<text x="6.2" y="53.75" font-size="20.3" fill="#000" textLength="207.5" lengthAdjust="spacingAndGlyphs">EXCHANGE: NASDAQ</text>
<text x="6.2" y="82.5" font-size="20.3" fill="#000" textLength="223.3" lengthAdjust="spacingAndGlyphs">SECTOR: TECHNOLOGY</text>
<text x="6.2" y="111.25" font-size="20.3" fill="#000" textLength="143" lengthAdjust="spacingAndGlyphs">WEEKLY SCALE</text>
<text x="102.7" y="243.6" font-size="18.6" fill="#0000ff" textLength="232.1" lengthAdjust="spacingAndGlyphs">2 YEAR-LONG RECTANGLE</text>
<text x="450.5" y="225.3" font-size="19.2" fill="#ff0000" textLength="110" lengthAdjust="spacingAndGlyphs">RESISTANCE</text>
<text x="455.4" y="455.8" font-size="19.3" fill="#009900" textLength="85" lengthAdjust="spacingAndGlyphs">SUPPORT</text>
<text x="875.6" y="246.7" font-size="18.5" fill="#0000ff" textLength="38.2" lengthAdjust="spacingAndGlyphs">28.6</text>
<text x="874.5" y="466.7" font-size="18.5" fill="#0000ff" textLength="47.5" lengthAdjust="spacingAndGlyphs">18.15</text>
<text x="954.8" y="32.7" font-size="21.4" fill="#000" textLength="23.8" lengthAdjust="spacingAndGlyphs">45</text>
<text x="954.8" y="89.7" font-size="21.4" fill="#000" textLength="23.8" lengthAdjust="spacingAndGlyphs">40</text>
<text x="954.8" y="153.7" font-size="21.4" fill="#000" textLength="23.8" lengthAdjust="spacingAndGlyphs">35</text>
<text x="954.8" y="228.7" font-size="21.4" fill="#000" textLength="23.8" lengthAdjust="spacingAndGlyphs">30</text>
<text x="954.8" y="316.7" font-size="21.4" fill="#000" textLength="23.8" lengthAdjust="spacingAndGlyphs">25</text>
<text x="954.8" y="424.7" font-size="21.4" fill="#000" textLength="23.8" lengthAdjust="spacingAndGlyphs">20</text>
<text x="954.8" y="563.7" font-size="21.4" fill="#000" textLength="23.8" lengthAdjust="spacingAndGlyphs">15</text>
<text x="954.8" y="760.7" font-size="21.4" fill="#000" textLength="23.8" lengthAdjust="spacingAndGlyphs">10</text>
<text x="938.5" y="369.9" font-size="21.2" fill="#fff" textLength="40.8" lengthAdjust="spacingAndGlyphs">22.2</text>
<text x="65.3" y="900.8" font-size="21.4" fill="#000" textLength="47.4" lengthAdjust="spacingAndGlyphs">2016</text>
<text x="252.3" y="900.8" font-size="21.4" fill="#000" textLength="47.4" lengthAdjust="spacingAndGlyphs">2017</text>
<text x="436.3" y="900.8" font-size="21.4" fill="#000" textLength="47.4" lengthAdjust="spacingAndGlyphs">2018</text>
<text x="620.3" y="900.8" font-size="21.4" fill="#000" textLength="47.4" lengthAdjust="spacingAndGlyphs">2019</text>
<text x="804.3" y="900.8" font-size="21.4" fill="#000" textLength="47.4" lengthAdjust="spacingAndGlyphs">2020</text>
</g>
</svg>
</body></html>
